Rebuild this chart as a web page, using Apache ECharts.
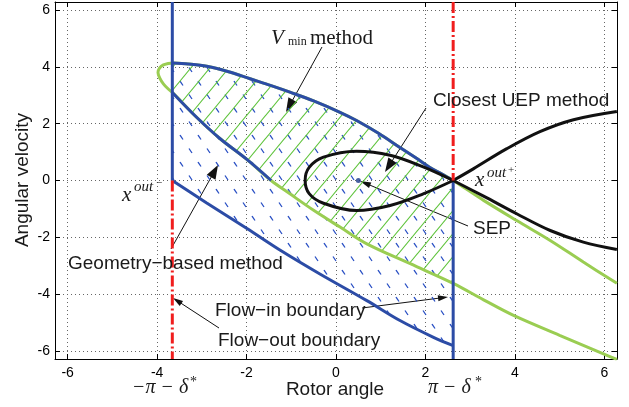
<!DOCTYPE html>
<html>
<head>
<meta charset="utf-8">
<script src="https://cdn.jsdelivr.net/npm/echarts@6/dist/echarts.min.js"></script>
<style>
html,body{margin:0;padding:0;background:#fff;}
#chart{width:629px;height:407px;}
</style>
</head>
<body>
<div id="chart"></div>
<script>
/* axis ticks and range (-2pi .. 2pi) */
var xTicks = [-6, -4, -2, 0, 2, 4, 6];
var yTicks = [-6, -4, -2, 0, 2, 4, 6];
var axisRange = [-6.2832, 6.2832];
/* -pi-delta*, pi-delta* */
var boundX = [-3.66, 2.62];
var sepPoint = [0.5, 0];

/* V_min level set, upper part (shared by blue and green) */
var topCurve = [[-3.66,4.14],[-3.3,4.10],[-2.89,4.02],[-2.4,3.83],[-1.92,3.58],[-1.45,3.34],[-1.03,3.11],
  [-0.5,2.80],[0.09,2.40],[0.46,2.11],[0.95,1.66],[1.43,1.16],[1.8,0.78],[2.1,0.46],[2.38,0.22],[2.62,0]];
var greenCap = [[-3.66,4.14],[-3.75,4.12],[-3.86,4.07],[-3.95,3.95],[-3.98,3.80],[-3.94,3.60],
  [-3.86,3.40],[-3.75,3.22],[-3.66,3.10]];
var lowerGreen = [[-3.66,3.10],[-3.1,2.20],[-2.59,1.47],[-2.0,0.75],[-1.45,0],[-1.03,-0.47],[-0.5,-1.05],
  [0.09,-1.64],[0.69,-2.23],[1.66,-2.93],[2.62,-3.62],[3.3,-4.20],[3.97,-4.75],[5.0,-5.45],[5.98,-6.10],[6.28,-6.30]];
var greenRight = [[2.62,0],[3.30,-0.70],[4.04,-1.41],[4.79,-2.11],[5.53,-2.87],[6.28,-3.62]];
/* flow-out boundary */
var bottomDiag = [[-3.66,0],[-2.9,-0.78],[-2.0,-1.68],[-1.2,-2.50],[-0.36,-3.29],[0.69,-4.23],
  [1.43,-4.93],[2.18,-5.52],[2.62,-5.81]];
/* closest UEP level set */
var blackLoop = [[2.62,0],[1.95,0.48],[1.21,0.89],[0.46,1.03],[-0.28,0.82],[-0.6,0.46],[-0.69,0],
  [-0.6,-0.46],[-0.28,-0.80],[0.46,-1.06],[1.21,-0.88],[1.95,-0.47],[2.62,0]];
var blackUpper = [[2.62,0],[3.07,0.41],[3.82,1.12],[4.56,1.72],[5.31,2.14],[6.28,2.43]];
var blackLower = [[2.62,0],[3.30,-0.55],[4.04,-1.17],[4.79,-1.76],[5.53,-2.17],[6.28,-2.43]];

var sans = '"Liberation Sans", Arial, sans-serif';
var serif = '"Liberation Serif", "DejaVu Serif", serif';
var BLUE = '#2c4ca6', GREEN = '#9acd52', RED = '#f01e1e';

/* hatch tiles */
function hatchTile(w, h, color, width, down, dash){
	var c = document.createElement('canvas');
	c.width = w; c.height = h;
	var g = c.getContext('2d');
	g.strokeStyle = color;
	g.lineWidth = width;
	if (dash) g.setLineDash(dash);
	for (var i = -1; i <= 1; i++) {
		for (var j = -1; j <= 1; j++) {
			g.beginPath();
			if (down) { g.moveTo(i*w, j*h); g.lineTo(i*w + w, j*h + h); }
			else { g.moveTo(i*w, j*h + h); g.lineTo(i*w + w, j*h); }
			g.stroke();
		}
	}
	return c;
}
var bl = Math.sqrt(18*18 + 27*27);
var blueHatch = {image: hatchTile(18, 27, '#2a50c4', 1.3, true, [bl/6, bl/3]), repeat: 'repeat'};
var greenHatch = {image: hatchTile(19, 23, '#5cc238', 1.1, false, null), repeat: 'repeat'};

var greenPoly = topCurve.concat(lowerGreen.filter(function(p){ return p[0] <= boundX[1]; }).reverse());
var bluePoly = topCurve.concat(bottomDiag.slice().reverse());

function polySeries(points, fill, z){
	return {
		type: 'custom', data: [[0, 0]], silent: true, clip: true, z: z,
		renderItem: function(params, api){
			return {
				type: 'polygon',
				shape: {points: points.map(function(p){ return api.coord(p); })},
				style: {fill: fill, stroke: null}
			};
		}
	};
}
function lineSeries(data, color, width, z, type, smooth){
	return {
		type: 'line', data: data, showSymbol: false, silent: true, z: z,
		smooth: smooth ? 0.35 : false,
		lineStyle: {color: color, width: width, type: type || 'solid', cap: 'butt'}
	};
}

var myChart = echarts.init(document.getElementById('chart'));
var option = {
	animation: false,
	backgroundColor: '#fff',
	grid: {left: 55, right: 12, top: 2, bottom: 48},
	xAxis: [{
		type: 'value', min: axisRange[0], max: axisRange[1],
		axisLine: {onZero: false, lineStyle: {color: '#000', width: 1}},
		axisTick: {inside: true, length: 5, customValues: xTicks, lineStyle: {color: '#000'}},
		axisLabel: {customValues: xTicks, color: '#000', fontSize: 14, fontFamily: sans, margin: 7},
		splitLine: {show: true, lineStyle: {color: '#666', type: [1, 3], width: 1}}
	}, {
		type: 'value', position: 'top', min: axisRange[0], max: axisRange[1],
		axisLine: {onZero: false, lineStyle: {color: '#000', width: 1}},
		axisTick: {inside: true, length: 5, customValues: xTicks, lineStyle: {color: '#000'}},
		axisLabel: {show: false}, splitLine: {show: false}
	}],
	yAxis: [{
		type: 'value', min: axisRange[0], max: axisRange[1],
		axisLine: {onZero: false, lineStyle: {color: '#000', width: 1}},
		axisTick: {inside: true, length: 5, customValues: yTicks, lineStyle: {color: '#000'}},
		axisLabel: {customValues: yTicks, color: '#000', fontSize: 14, fontFamily: sans, margin: 5},
		splitLine: {show: true, lineStyle: {color: '#666', type: [1, 3], width: 1}}
	}, {
		type: 'value', position: 'right', min: axisRange[0], max: axisRange[1],
		axisLine: {onZero: false, lineStyle: {color: '#000', width: 1}},
		axisTick: {inside: true, length: 5, customValues: yTicks, lineStyle: {color: '#000'}},
		axisLabel: {show: false}, splitLine: {show: false}
	}],
	series: [
		polySeries(bluePoly, blueHatch, 1),
		polySeries(greenPoly, greenHatch, 1),
		lineSeries(greenRight.slice().reverse().concat(topCurve.slice().reverse(), greenCap.slice(1), lowerGreen.slice(1)), GREEN, 3, 2, null, true),
		lineSeries(topCurve, BLUE, 3, 3, null, true),
		lineSeries(lowerGreen.filter(function(p){ return p[0] <= -1.45; }), BLUE, 3, 3, null, true),
		lineSeries(bottomDiag, BLUE, 3, 3, null, true),
		lineSeries([[boundX[0], axisRange[1]], [boundX[0], 0]], BLUE, 3, 3),
		lineSeries([[boundX[1], 0], [boundX[1], axisRange[0]]], BLUE, 3, 3),
		lineSeries(blackLoop, '#111', 3, 4, null, true),
		lineSeries(blackUpper, '#111', 3, 4, null, true),
		lineSeries(blackLower, '#111', 3, 4, null, true),
		lineSeries([[boundX[0], 0], [boundX[0], axisRange[0]]], RED, 3, 5, [11, 3, 2, 3]),
		lineSeries([[boundX[1], axisRange[1]], [boundX[1], 0]], RED, 3, 5, [11, 3, 2, 3]),
		{type: 'scatter', data: [sepPoint], symbolSize: 5, silent: true, z: 6, itemStyle: {color: '#1c3a8c'}}
	]
};
myChart.setOption(option);

/* annotations */
function txt(x, y, s, size, family, opt){
	opt = opt || {};
	return {
		type: 'text', x: x, y: y, rotation: opt.rot || 0, z: 100, silent: true,
		style: {text: s, fill: '#1a1a1a', fontSize: size, fontFamily: family,
			fontStyle: opt.italic ? 'italic' : 'normal', align: opt.align || 'left', verticalAlign: 'middle'}
	};
}
function arrow(x1, y1, x2, y2, len, w){
	var dx = x2 - x1, dy = y2 - y1, d = Math.sqrt(dx*dx + dy*dy);
	var ux = dx / d, uy = dy / d;
	var bx = x2 - ux*len, by = y2 - uy*len;
	return {
		type: 'group', z: 100, silent: true,
		children: [
			{type: 'line', shape: {x1: x1, y1: y1, x2: bx + ux*2, y2: by + uy*2}, style: {stroke: '#111', lineWidth: 1}},
			{type: 'polygon', shape: {points: [[x2, y2], [bx - uy*w/2, by + ux*w/2], [bx + uy*w/2, by - ux*w/2]]}, style: {fill: '#111'}}
		]
	};
}
myChart.setOption({
	graphic: [
		txt(271, 38.5, 'V', 21, serif, {italic: true}),
		txt(288, 42, 'min', 12, serif),
		txt(310, 38, 'method', 21, serif),
		txt(433, 100.5, 'Closest UEP method', 19, sans),
		txt(473, 228.5, 'SEP', 19, sans),
		txt(68, 263.5, 'Geometry\u2212based method', 19, sans),
		txt(215, 310.5, 'Flow\u2212in boundary', 19, sans),
		txt(218, 340.5, 'Flow\u2212out boundary', 19, sans),
		txt(335, 389.5, 'Rotor angle', 19, sans, {align: 'center'}),
		txt(23, 180, 'Angular velocity', 19, sans, {align: 'center', rot: Math.PI/2}),
		txt(475, 180, 'x', 21, serif, {italic: true}),
		txt(487, 173, 'out', 15, serif, {italic: true}),
		txt(508, 170, '+', 11, serif),
		txt(122, 195, 'x', 21, serif, {italic: true}),
		txt(134, 187, 'out', 15, serif, {italic: true}),
		txt(156, 183, '\u2212', 11, serif),
		txt(132, 388, '\u2212\u03c0 \u2212 \u03b4', 20, serif, {italic: true}),
		txt(190, 382, '*', 14, serif),
		txt(428, 388, '\u03c0 \u2212 \u03b4', 20, serif, {italic: true}),
		txt(475, 382, '*', 14, serif),
		arrow(322, 47, 286, 112, 14, 10),
		arrow(426, 108, 385, 172, 14, 10),
		arrow(171, 249, 218, 165, 14, 10),
		arrow(468, 226, 360, 181, 11, 6),
		arrow(362, 308, 448, 297, 10, 6),
		arrow(219, 328, 173, 298, 10, 6)
	]
});
</script>
</body>
</html>
